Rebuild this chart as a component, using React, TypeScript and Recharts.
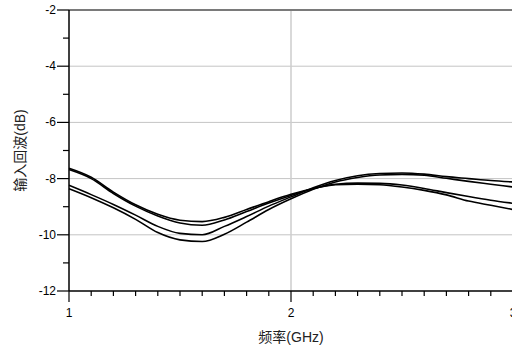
import React from 'react';
import { LineChart, Line, XAxis, YAxis, ReferenceLine } from 'recharts';

// frequency points (GHz)
const FREQ = [1.0, 1.1, 1.2, 1.3, 1.4, 1.5, 1.6, 1.7, 1.8, 1.9, 2.0, 2.1, 2.2, 2.3, 2.4, 2.5, 2.6, 2.7, 2.8, 2.9, 3.0];

// input return loss (dB), four traces
const S11_A1 = [-7.63, -7.95, -8.48, -8.93, -9.27, -9.48, -9.53, -9.38, -9.1, -8.82, -8.56, -8.35, -8.2, -8.16, -8.17, -8.23, -8.35, -8.5, -8.64, -8.77, -8.88];
const S11_A2 = [-7.68, -8.0, -8.53, -8.98, -9.33, -9.58, -9.66, -9.47, -9.17, -8.87, -8.6, -8.36, -8.22, -8.2, -8.22, -8.3, -8.42, -8.58, -8.8, -8.95, -9.1];
const S11_B1 = [-8.24, -8.57, -8.92, -9.3, -9.7, -9.95, -10.0, -9.7, -9.35, -8.98, -8.65, -8.33, -8.07, -7.9, -7.82, -7.8, -7.84, -7.93, -8.0, -8.07, -8.12];
const S11_B2 = [-8.36, -8.68, -9.04, -9.45, -9.92, -10.18, -10.24, -9.98, -9.55, -9.1, -8.72, -8.38, -8.12, -7.96, -7.87, -7.85, -7.88, -7.99, -8.1, -8.2, -8.3];

const X_TICKS = [1, 1.1, 1.2, 1.3, 1.4, 1.5, 1.6, 1.7, 1.8, 1.9, 2, 2.1, 2.2, 2.3, 2.4, 2.5, 2.6, 2.7, 2.8, 2.9, 3];
const X_LABELS = [1, 2, 3];
const Y_TICKS = [-12, -11, -10, -9, -8, -7, -6, -5, -4, -3, -2];
const Y_LABELS = [-12, -10, -8, -6, -4, -2];
const Y_GRID = [-4, -6, -8, -10];

const data = FREQ.map((f, i) => ({
  f,
  a1: S11_A1[i],
  a2: S11_A2[i],
  b1: S11_B1[i],
  b2: S11_B2[i],
}));

const FONT = '"Liberation Sans", Arial, "Noto Sans CJK SC", sans-serif';

const isIn = (list: number[], v: number) => list.some((n) => Math.abs(n - v) < 1e-6);

const XTick = ({ x, y, payload }: any) => {
  const major = isIn(X_LABELS, payload.value);
  return (
    <g>
      <line x1={x} x2={x} y1={y} y2={y + (major ? 11 : 5)} stroke='#000' strokeWidth={1.2} />
      {major && (
        <text x={x} y={y + 26} textAnchor='middle' fontSize={12} fontFamily={FONT} fill='#000'>
          {payload.value}
        </text>
      )}
    </g>
  );
};

const YTick = ({ x, y, payload }: any) => {
  const major = isIn(Y_LABELS, payload.value);
  return (
    <g>
      <line x1={x - (major ? 12 : 6)} x2={x} y1={y} y2={y} stroke='#000' strokeWidth={1.2} />
      {major && (
        <text x={x - 13} y={y + 4} textAnchor='end' fontSize={12} fontFamily={FONT} fill='#000'>
          {payload.value}
        </text>
      )}
    </g>
  );
};

const YTitle = ({ viewBox }: any) => {
  const cx = viewBox.x + 20;
  const cy = viewBox.y + viewBox.height / 2;
  return (
    <text
      x={cx}
      y={cy}
      transform={`rotate(-90 ${cx} ${cy})`}
      textAnchor='middle'
      dominantBaseline='central'
      fontSize={14}
      fontFamily={FONT}
      fill='#222'
    >
      输入回波(dB)
    </text>
  );
};

const XTitle = ({ viewBox }: any) => (
  <text
    x={viewBox.x + viewBox.width / 2}
    y={viewBox.y + 51}
    textAnchor='middle'
    fontSize={14}
    fontFamily={FONT}
    fill='#222'
  >
    频率(GHz)
  </text>
);

export default function App() {
  return (
    <div style={{ position: 'absolute', left: 0, top: 0, width: 512, height: 357, overflow: 'hidden', background: '#fff' }}>
      <LineChart width={530} height={357} data={data} margin={{ top: 10, right: 17, bottom: 0, left: 0 }}>
        <XAxis
          dataKey='f'
          type='number'
          domain={[1, 3]}
          ticks={X_TICKS}
          interval={0}
          tickSize={0}
          tickMargin={0}
          tickLine={false}
          tick={<XTick />}
          height={66}
          axisLine={{ stroke: '#000', strokeWidth: 1.5 }}
          label={<XTitle />}
        />
        <YAxis
          type='number'
          domain={[-12, -2]}
          ticks={Y_TICKS}
          interval={0}
          tickSize={0}
          tickMargin={0}
          tickLine={false}
          tick={<YTick />}
          width={69}
          axisLine={{ stroke: '#000', strokeWidth: 1.5 }}
          label={<YTitle />}
        />
        {Y_GRID.map((v) => (
          <ReferenceLine key={v} y={v} stroke='#c4c4c4' strokeWidth={1} />
        ))}
        <ReferenceLine x={2} stroke='#cccccc' strokeWidth={1.5} />
        <ReferenceLine y={-2} stroke='#7a7a7a' strokeWidth={2} />
        <Line dataKey='a1' type='monotone' stroke='#000' strokeWidth={1.6} dot={false} isAnimationActive={false} />
        <Line dataKey='a2' type='monotone' stroke='#000' strokeWidth={1.6} dot={false} isAnimationActive={false} />
        <Line dataKey='b1' type='monotone' stroke='#000' strokeWidth={1.6} dot={false} isAnimationActive={false} />
        <Line dataKey='b2' type='monotone' stroke='#000' strokeWidth={1.6} dot={false} isAnimationActive={false} />
      </LineChart>
    </div>
  );
}
